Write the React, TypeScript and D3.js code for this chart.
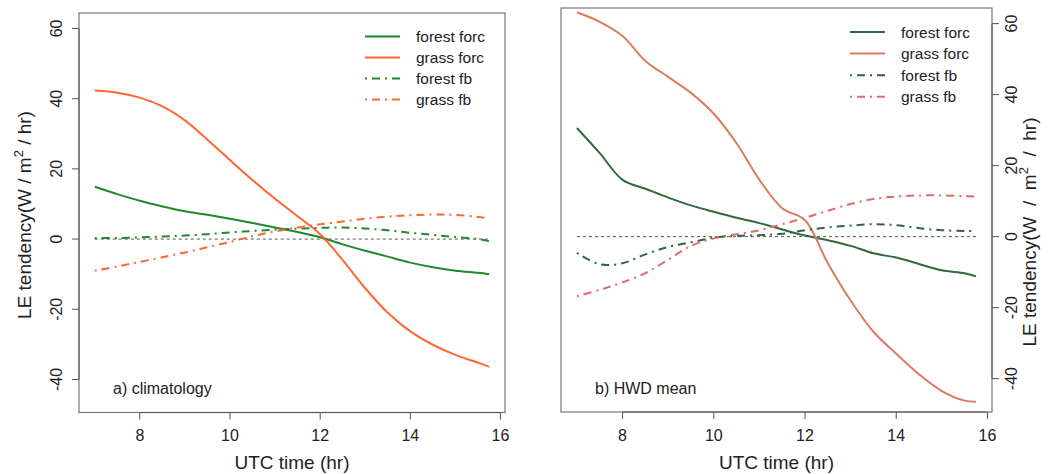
import React from "react";
import * as d3 from "d3";

const timesA = [7, 7.5, 8, 8.5, 9, 9.5, 10, 10.5, 11, 11.5, 12, 12.5, 13, 13.5, 14, 14.5, 15, 15.5, 15.75];
const timesB = [7, 7.5, 8, 8.5, 9, 9.5, 10, 10.5, 11, 11.5, 12, 12.5, 13, 13.5, 14, 14.5, 15, 15.5, 15.75];

// a) climatology
const aForestForc = [14.9, 12.8, 10.9, 9.3, 7.9, 6.9, 5.8, 4.6, 3.3, 2.0, 0.5, -1.5, -3.3, -5.0, -6.7, -8.0, -9.0, -9.6, -10.0];
const aGrassForc = [42.3, 41.7, 40.3, 37.8, 33.8, 28.3, 22.5, 16.8, 11.5, 6.5, 1.4, -6.0, -14.0, -21.0, -26.3, -30.1, -33.0, -35.2, -36.4];
const aForestFb = [0.3, 0.3, 0.5, 0.7, 1.0, 1.4, 1.9, 2.3, 2.7, 3.0, 3.2, 3.3, 3.0, 2.5, 1.8, 1.2, 0.6, 0.0, -0.6];
const aGrassFb = [-9.0, -7.8, -6.5, -5.2, -3.8, -2.3, -0.8, 0.8, 2.2, 3.3, 4.2, 5.0, 5.8, 6.4, 6.8, 7.0, 6.9, 6.3, 5.9];

// b) HWD mean
const bForestForc = [30.6, 23.5, 16.0, 13.5, 11.0, 8.8, 7.0, 5.3, 3.8, 2.0, 0.3, -1.0, -2.6, -4.7, -5.9, -7.7, -9.5, -10.3, -11.2];
const bGrassForc = [63.2, 60.5, 56.5, 49.5, 45.0, 40.5, 34.6, 26.3, 16.0, 8.0, 4.6, -7.5, -18.0, -26.8, -33.0, -38.8, -43.5, -46.2, -46.5];
const bForestFb = [-4.6, -7.8, -7.5, -5.0, -2.9, -1.6, -0.3, 0.2, 0.4, 0.8, 1.8, 2.6, 3.1, 3.5, 3.2, 2.4, 1.8, 1.6, 1.6];
const bGrassFb = [-16.8, -15.0, -12.9, -10.3, -6.5, -2.6, -0.5, 0.7, 1.8, 3.5, 5.3, 7.3, 9.2, 10.6, 11.3, 11.6, 11.6, 11.4, 11.3];

const xTicks = [8, 10, 12, 14, 16];
const yTicks = [-40, -20, 0, 20, 40, 60];
const legendLabels = ["forest forc", "grass forc", "forest fb", "grass fb"];
const panelLabels = ["a) climatology", "b) HWD mean"];
const xTitle = "UTC time (hr)";

const FONT = "'Liberation Sans', Arial, Helvetica, sans-serif";
const DOTDASH = "2,5,8,5";

type Series = { values: number[]; color: string; dash?: string };

function Panel(props: {
  left: number; right: number; top: number; bottom: number;
  times: number[]; series: Series[]; label: string; axisSide: "left" | "right";
  legendX: number; legendY: number; legendStep: number;
  titleCenter: number; titleGap: string;
}) {
  const { left, right, top, bottom, times, series, label, axisSide, legendX, legendY, legendStep, titleCenter, titleGap } = props;
  const x = d3.scaleLinear().domain([6.65, 16.1]).range([left, right]);
  const y = d3.scaleLinear().domain([-49.4, 64.4]).range([bottom, top]);
  const line = d3.line<number>().x((_, i) => x(times[i])).y((d) => y(d)).curve(d3.curveCatmullRom);
  const tickTextX = axisSide === "left" ? left - 17 : right + 25;
  const titleX = axisSide === "left" ? 31 : 1036;
  const t0 = times[0];
  const t1 = times[times.length - 1];
  return (
    <g>
      <rect x={left} y={top} width={right - left} height={bottom - top} fill="none" stroke="#777" strokeWidth={1.2} />
      <line x1={x(t0)} x2={x(t1)} y1={y(0)} y2={y(0)} stroke="#555" strokeWidth={1} strokeDasharray="3,3" />
      {series.map((s, i) => (
        <path key={i} d={line(s.values) || ""} fill="none" stroke={s.color} strokeWidth={2} strokeDasharray={s.dash} />
      ))}
      <line x1={x(xTicks[0])} x2={x(xTicks[xTicks.length - 1])} y1={bottom} y2={bottom} stroke="#555" />
      {xTicks.map((t) => (
        <g key={t}>
          <line x1={x(t)} x2={x(t)} y1={bottom} y2={bottom + 7} stroke="#555" />
          <text x={x(t)} y={441} textAnchor="middle" fontSize={16} fill="#222" fontFamily={FONT}>{t}</text>
        </g>
      ))}
      <text x={(left + right) / 2} y={469} textAnchor="middle" fontSize={19} fill="#222" fontFamily={FONT}>{xTitle}</text>
      {yTicks.map((v) => (
        <g key={v}>
          <line x1={axisSide === "left" ? left : right} x2={axisSide === "left" ? left - 7 : right + 7} y1={y(v)} y2={y(v)} stroke="#555" />
          <text transform={`translate(${tickTextX},${y(v)}) rotate(-90)`} textAnchor="middle" fontSize={16} fill="#222" fontFamily={FONT}>{v}</text>
        </g>
      ))}
      <line x1={axisSide === "left" ? left : right} x2={axisSide === "left" ? left : right} y1={y(-40)} y2={y(60)} stroke="#555" />
      <text transform={`translate(${titleX},${titleCenter}) rotate(-90)`} textAnchor="middle" fontSize={19} fill="#222" fontFamily={FONT} style={{ whiteSpace: "pre" }}>
        <tspan>LE tendency(W</tspan>
        <tspan>{titleGap + "/" + titleGap + "m"}</tspan>
        <tspan fontSize={13} dy={-8}>2</tspan>
        <tspan dy={8}>{titleGap + "/" + titleGap + "hr)"}</tspan>
      </text>
      {series.map((s, i) => (
        <g key={i}>
          <line x1={legendX} x2={legendX + 35} y1={legendY + i * legendStep} y2={legendY + i * legendStep} stroke={s.color} strokeWidth={2} strokeDasharray={s.dash} />
          <text x={legendX + 51} y={legendY + i * legendStep + 5.5} fontSize={15.5} fill="#222" fontFamily={FONT}>{legendLabels[i]}</text>
        </g>
      ))}
      <text x={left + 34} y={394} fontSize={16} fill="#222" fontFamily={FONT}>{label}</text>
    </g>
  );
}

export default function App() {
  const seriesA: Series[] = [
    { values: aForestForc, color: "#1f8a2c" },
    { values: aGrassForc, color: "#ff6633" },
    { values: aForestFb, color: "#1f8a2c", dash: DOTDASH },
    { values: aGrassFb, color: "#ff6633", dash: DOTDASH },
  ];
  const seriesB: Series[] = [
    { values: bForestForc, color: "#2e6b3d" },
    { values: bGrassForc, color: "#de7a60" },
    { values: bForestFb, color: "#2e6448", dash: DOTDASH },
    { values: bGrassFb, color: "#e06a6a", dash: DOTDASH },
  ];
  return (
    <svg width={1050} height={474} style={{ display: "block", position: "absolute", left: 0, top: 0, background: "#fff" }}>
      <rect width={1050} height={474} fill="#fff" />
      <Panel left={79} right={505} top={13} bottom={412.5} times={timesA} series={seriesA} label={panelLabels[0]}
        axisSide="left" legendX={365} legendY={36.5} legendStep={21} titleCenter={215} titleGap=" " />
      <Panel left={561} right={992} top={8} bottom={412} times={timesB} series={seriesB} label={panelLabels[1]}
        axisSide="right" legendX={850} legendY={32} legendStep={21.6} titleCenter={232} titleGap="  " />
    </svg>
  );
}
